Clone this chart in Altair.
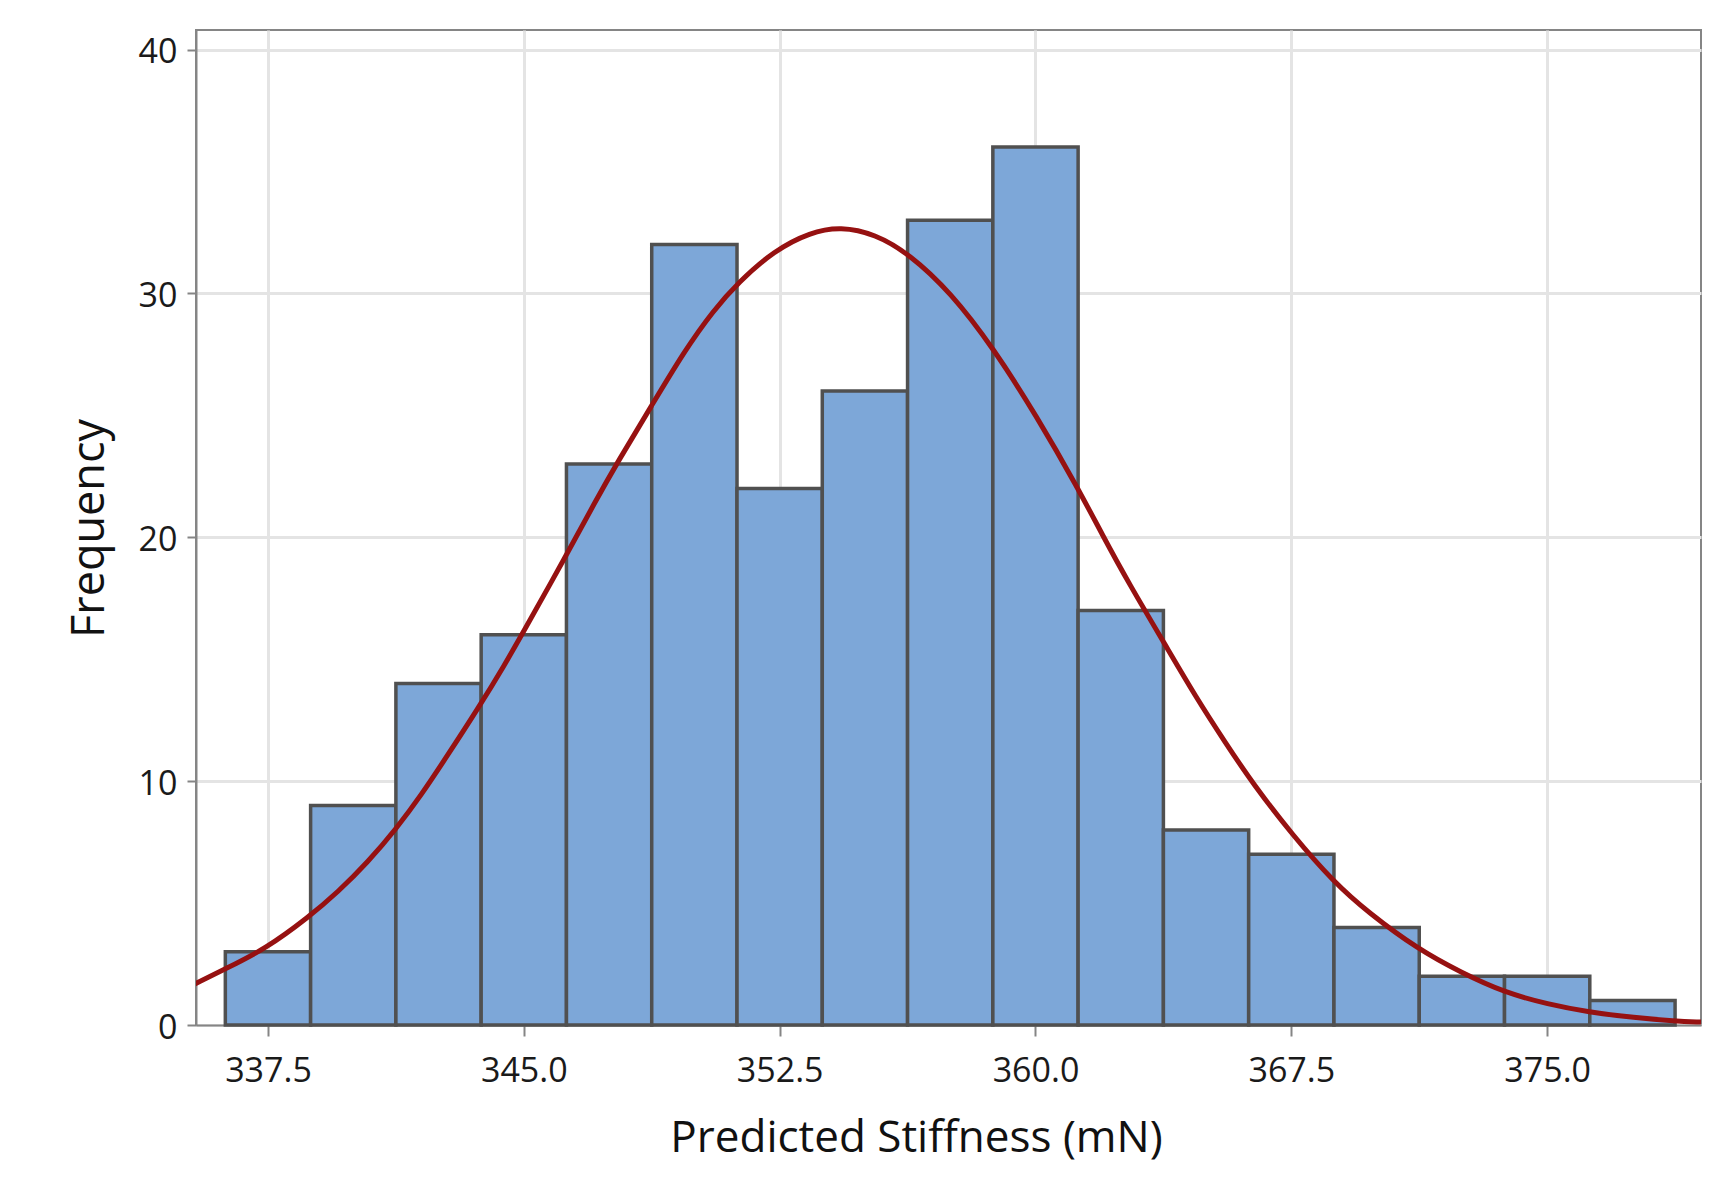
import altair as alt
import pandas as pd

# Histogram bins
bin_start = [336.25, 338.75, 341.25, 343.75, 346.25, 348.75, 351.25, 353.75, 356.25,
             358.75, 361.25, 363.75, 366.25, 368.75, 371.25, 373.75, 376.25]
bin_end = [338.75, 341.25, 343.75, 346.25, 348.75, 351.25, 353.75, 356.25, 358.75,
           361.25, 363.75, 366.25, 368.75, 371.25, 373.75, 376.25, 378.75]
counts = [3, 9, 14, 16, 23, 32, 22, 26, 33, 36, 17, 8, 7, 4, 2, 2, 1]

# Fitted normal curve
curve_x = [335.35, 336.25, 337.43, 338.69, 339.55, 340.43, 341.26, 341.99, 342.77,
           343.69, 344.43, 344.96, 346.25, 347.07, 347.76, 348.74, 349.71, 350.55,
           351.29, 352.34, 353.40, 354.29, 355.29, 356.30, 357.51, 358.77, 360.04,
           361.25, 361.96, 362.74, 363.80, 364.70, 365.58, 366.37, 367.54, 368.75,
           369.75, 371.21, 372.48, 373.75, 375.03, 376.21, 377.56, 378.75, 379.51]
curve_y = [1.68, 2.30, 3.12, 4.42, 5.45, 6.68, 8.05, 9.42, 11.07,
           13.05, 14.75, 16.05, 19.27, 21.40, 23.11, 25.38, 27.64, 29.29,
           30.45, 31.76, 32.51, 32.74, 32.44, 31.62, 30.05, 27.75, 24.95,
           22.00, 20.10, 18.10, 15.60, 13.45, 11.55, 9.90, 7.78, 5.85,
           4.62, 3.11, 2.15, 1.33, 0.85, 0.53, 0.30, 0.16, 0.12]

x_ticks = [337.5, 345.0, 352.5, 360.0, 367.5, 375.0]
y_ticks = [0, 10, 20, 30, 40]

bars = pd.DataFrame({"start": bin_start, "end": bin_end, "count": counts})
curve = pd.DataFrame({"x": curve_x, "y": curve_y})

x_scale = alt.Scale(domain=[335.39, 379.51], nice=False, zero=False)
y_scale = alt.Scale(domain=[0, 40.8], nice=False, zero=True)

x_axis = alt.Axis(
    values=x_ticks, format=".1f", title="Predicted Stiffness (mN)",
    grid=True, gridColor="#e4e4e4", gridWidth=3,
    domainColor="#858585", domainWidth=2,
    tickColor="#858585", tickWidth=2, tickSize=11,
    labelPadding=18, labelFont="Open Sans", labelFontSize=34, labelColor="#1a1a1a",
    labelFlush=False,
    titleFont="Open Sans", titleFontSize=44, titleFontWeight="normal", titleColor="#111111",
    titleX=720, titleY=126, titleBaseline="alphabetic", titleAlign="center",
)
y_axis = alt.Axis(
    values=y_ticks, format="d", title="Frequency",
    grid=True, gridColor="#e4e4e4", gridWidth=3,
    domainColor="#858585", domainWidth=2,
    tickColor="#858585", tickWidth=2, tickSize=9,
    labelPadding=10, labelFont="Open Sans", labelFontSize=34, labelColor="#1a1a1a",
    labelOffset=3, labelFlush=False,
    titleFont="Open Sans", titleFontSize=45, titleFontWeight="normal", titleColor="#111111",
    titleAngle=270, titleX=-93, titleY=498, titleBaseline="alphabetic", titleAlign="center",
)

hist = alt.Chart(bars).mark_rect(
    fill="#7da7d8", stroke="#505050", strokeWidth=3.5
).encode(
    x=alt.X("start:Q", scale=x_scale, axis=x_axis),
    x2="end:Q",
    y=alt.Y("count:Q", scale=y_scale, axis=y_axis),
    y2=alt.datum(0),
)

line = alt.Chart(curve).mark_line(
    color="#961111", strokeWidth=5, interpolate="basis", clip=True
).encode(
    x=alt.X("x:Q", scale=x_scale),
    y=alt.Y("y:Q", scale=y_scale),
)

chart = alt.layer(hist, line).properties(
    width=1505, height=995,
    autosize=alt.AutoSizeParams(type="none"),
    padding={"left": 188, "top": 22, "right": 20, "bottom": 170},
    background="white",
).configure_view(
    stroke="#858585", strokeWidth=2
)

chart.save("out.html", embed_options={"renderer": "svg", "actions": False})
